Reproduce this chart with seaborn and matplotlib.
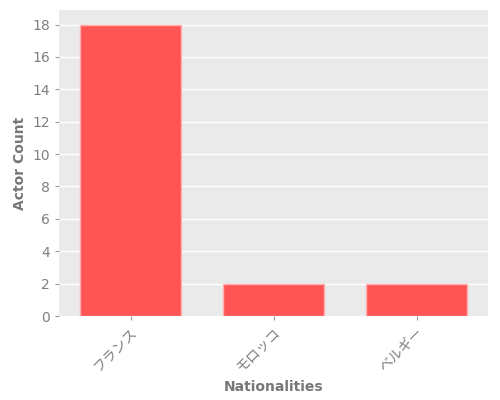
import pandas as pd
import matplotlib
matplotlib.use("Agg")
import matplotlib.pyplot as plt
import seaborn as sns

# -------------------------------
# Data
# -------------------------------

nationalities = ["フランス", "モロッコ", "ベルギー"]
actor_counts = [18, 2, 2]
y_ticks = [0, 2, 4, 6, 8, 10, 12, 14, 16, 18]

df = pd.DataFrame({"nationality": nationalities, "count": actor_counts})

sns.set_style("darkgrid", {
    "axes.facecolor": "#EAEAEA",
    "grid.color": "white",
    "xtick.bottom": True,
    "ytick.left": True,
})
plt.rcParams["font.family"] = ["DejaVu Sans", "Noto Sans CJK JP"]

fig, ax = plt.subplots(figsize=(5, 4), dpi=100)

sns.barplot(
    data=df,
    x="nationality",
    y="count",
    color="#FF5555",
    saturation=1,
    width=0.7,
    edgecolor="#FFB0B0",
    linewidth=1,
    ax=ax
)

ax.set_yticks(y_ticks)
ax.grid(axis="x", visible=False)
ax.grid(axis="y", color="white", linewidth=1)
for s in ax.spines.values():
    s.set_visible(False)

ax.tick_params(colors="#999999", labelcolor="#808080", labelsize=10, length=3, width=0.8)
plt.setp(ax.get_xticklabels(), rotation=45, ha="right", rotation_mode="anchor")

ax.set_xlabel("Nationalities", fontsize=10, color="#777777", fontweight="bold", labelpad=4)
ax.set_ylabel("Actor Count", fontsize=10, color="#777777", fontweight="bold", labelpad=4)

fig.subplots_adjust(left=0.118, right=0.976, top=0.975, bottom=0.21)
plt.savefig("out.png")
